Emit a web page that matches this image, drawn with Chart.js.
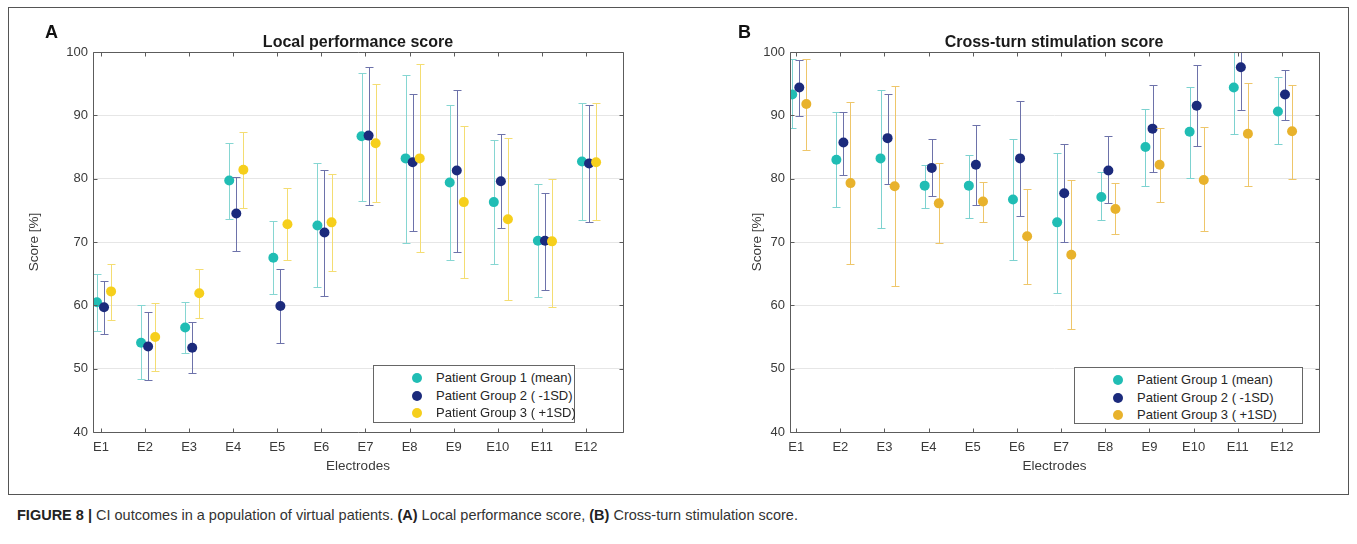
<!DOCTYPE html>
<html>
<head>
<meta charset="utf-8">
<script src="https://cdn.jsdelivr.net/npm/chart.js@4.4.1/dist/chart.umd.min.js"></script>
<style>
  html, body { margin:0; padding:0; background:#fff; }
  body { width:1357px; height:544px; position:relative; overflow:hidden; font-family:"Liberation Sans", Arial, sans-serif; }
  .frame { position:absolute; left:8px; top:7px; width:1341px; height:488px; border:1px solid #555; box-sizing:border-box; }
  canvas { position:absolute; top:0; }
  .letter { position:absolute; font-weight:bold; font-size:18px; color:#111; }
  .ptitle { position:absolute; font-weight:bold; font-size:16px; color:#1a1a1a; transform:translateX(-50%); white-space:nowrap; top:33px; }
  .legend { position:absolute; background:#fff; border:1px solid #666; box-sizing:border-box; font-size:13px; color:#262626; }
  .legend .row { position:absolute; left:0; white-space:nowrap; line-height:17px; }
  .legend .dot { position:absolute; width:10px; height:10px; border-radius:50%; top:4px; }
  .legend .txt { position:absolute; top:0; }
  .caption { position:absolute; left:17px; top:507px; font-size:14.5px; color:#333; white-space:nowrap; font-family:"Liberation Sans Narrow","Liberation Sans",Arial,sans-serif; }
  .caption b { color:#222; }
</style>
</head>
<body>
<div class="frame"></div>
<canvas id="cA" width="690" height="500" style="left:0px;width:690px;height:500px;"></canvas>
<canvas id="cB" width="667" height="500" style="left:690px;width:667px;height:500px;"></canvas>
<div class="letter" style="left:45px;top:22px;">A</div>
<div class="letter" style="left:738px;top:22px;">B</div>
<div class="ptitle" style="left:358px;">Local performance score</div>
<div class="ptitle" style="left:1054px;">Cross-turn stimulation score</div>
<div id="legA" class="legend" style="left:373px;top:365px;width:202px;height:58px;"></div>
<div id="legB" class="legend" style="left:1074px;top:367px;width:229px;height:57px;"></div>
<div class="caption"><b>FIGURE 8 |</b> CI outcomes in a population of virtual patients. <b>(A)</b> Local performance score, <b>(B)</b> Cross-turn stimulation score.</div>
<script>
// ---------- data ----------
const electrodes = ["E1","E2","E3","E4","E5","E6","E7","E8","E9","E10","E11","E12"];
const yTicks = [40, 50, 60, 70, 80, 90, 100];
const groupNames = ["Patient Group 1 (mean)", "Patient Group 2 ( -1SD)", "Patient Group 3 ( +1SD)"];

// Panel A: Local performance score
const lpsG1Mean = [60.5, 54.1, 56.5, 79.7, 67.5, 72.6, 86.7, 83.2, 79.4, 76.3, 70.2, 82.7];
const lpsG1Low  = [56.0, 48.4, 52.4, 73.7, 61.8, 62.9, 76.4, 69.8, 67.1, 66.5, 61.3, 73.4];
const lpsG1High = [64.9, 60.0, 60.6, 85.6, 73.3, 82.5, 96.7, 96.4, 91.7, 86.1, 79.2, 92.0];
const lpsG2Mean = [59.7, 53.5, 53.3, 74.5, 59.9, 71.5, 86.8, 82.6, 81.3, 79.6, 70.2, 82.4];
const lpsG2Low  = [55.5, 48.2, 49.3, 68.6, 54.0, 61.5, 75.9, 71.8, 68.4, 72.2, 62.5, 73.2];
const lpsG2High = [63.9, 58.9, 57.3, 80.2, 65.7, 81.4, 97.6, 93.3, 94.0, 87.1, 77.7, 91.6];
const lpsG3Mean = [62.2, 55.0, 61.9, 81.4, 72.8, 73.1, 85.6, 83.2, 76.3, 73.6, 70.1, 82.6];
const lpsG3Low  = [57.7, 49.6, 58.0, 75.4, 67.1, 65.4, 76.3, 68.4, 64.3, 60.8, 59.8, 73.4];
const lpsG3High = [66.5, 60.3, 65.7, 87.4, 78.5, 80.7, 94.9, 98.1, 88.3, 86.5, 80.0, 91.9];

// Panel B: Cross-turn stimulation score
const ctsG1Mean = [93.3, 83.0, 83.2, 78.9, 78.9, 76.7, 73.1, 77.1, 85.0, 87.4, 94.4, 90.6];
const ctsG1Low  = [88.0, 75.5, 72.2, 75.4, 73.8, 67.1, 62.0, 73.5, 78.9, 80.1, 87.1, 85.4];
const ctsG1High = [98.9, 90.5, 94.0, 82.2, 83.8, 86.3, 84.1, 81.0, 91.0, 94.4, 101.5, 96.1];
const ctsG2Mean = [94.4, 85.7, 86.4, 81.7, 82.2, 83.2, 77.7, 81.3, 87.9, 91.5, 97.6, 93.3];
const ctsG2Low  = [89.9, 80.6, 79.2, 77.3, 75.9, 74.1, 70.0, 76.2, 81.1, 85.2, 90.9, 89.2];
const ctsG2High = [98.8, 90.6, 93.4, 86.2, 88.4, 92.3, 85.5, 86.7, 94.8, 98.0, 104.0, 97.2];
const ctsG3Mean = [91.8, 79.3, 78.8, 76.1, 76.4, 70.9, 68.0, 75.2, 82.2, 79.8, 87.1, 87.5];
const ctsG3Low  = [84.6, 66.5, 63.0, 69.8, 73.2, 63.4, 56.3, 71.2, 76.3, 71.7, 78.9, 79.9];
const ctsG3High = [98.9, 92.1, 94.7, 82.4, 79.5, 78.4, 79.8, 79.3, 88.0, 88.1, 95.1, 94.8];

// ---------- styling ----------
const groupOffsets = [-0.09, 0.07, 0.23];
const stylesA = [
  { marker: "#20bdb4", bar: "#86d6d2" },
  { marker: "#1b2a7c", bar: "#6d72aa" },
  { marker: "#f6cf1c", bar: "#f4dd72" }
];
const stylesB = [
  { marker: "#20bdb4", bar: "#7dd2d0" },
  { marker: "#1b2a7c", bar: "#6d72aa" },
  { marker: "#e8b22c", bar: "#eec66a" }
];
const FONT = "'Liberation Sans', Arial, sans-serif";

const errorBarPlugin = {
  id: "errbars",
  beforeDatasetDraw(chart, args) {
    const ds = chart.data.datasets[args.index];
    const { ctx, chartArea } = chart;
    const xs = chart.scales.x, ys = chart.scales.y;
    ctx.save();
    ctx.beginPath();
    ctx.rect(chartArea.left, chartArea.top, chartArea.right - chartArea.left, chartArea.bottom - chartArea.top);
    ctx.clip();
    ctx.strokeStyle = ds.barColor;
    ctx.lineWidth = 1;
    ds.data.forEach((p, i) => {
      const px = Math.round(xs.getPixelForValue(p.x)) + 0.5;
      const ph = Math.round(ys.getPixelForValue(ds.high[i])) + 0.5;
      const pl = Math.round(ys.getPixelForValue(ds.low[i])) + 0.5;
      ctx.beginPath();
      ctx.moveTo(px, ph); ctx.lineTo(px, pl);
      ctx.moveTo(px - 4, ph); ctx.lineTo(px + 4, ph);
      ctx.moveTo(px - 4, pl); ctx.lineTo(px + 4, pl);
      ctx.stroke();
    });
    ctx.restore();
  }
};

const boxPlugin = {
  id: "matlabBox",
  afterDraw(chart) {
    const { ctx, chartArea } = chart;
    const xs = chart.scales.x, ys = chart.scales.y;
    const L = Math.round(chartArea.left) + 0.5, R = Math.round(chartArea.right) + 0.5;
    const T = Math.round(chartArea.top) + 0.5, B = Math.round(chartArea.bottom) + 0.5;
    ctx.save();
    ctx.strokeStyle = "#5c5c5c";
    ctx.lineWidth = 1;
    ctx.beginPath();
    ctx.rect(L, T, R - L, B - T);
    ctx.stroke();
    ctx.beginPath();
    xs.ticks.forEach(t => {
      const px = Math.round(xs.getPixelForValue(t.value)) + 0.5;
      ctx.moveTo(px, B); ctx.lineTo(px, B - 4);
      ctx.moveTo(px, T); ctx.lineTo(px, T + 4);
    });
    ys.ticks.forEach(t => {
      const py = Math.round(ys.getPixelForValue(t.value)) + 0.5;
      ctx.moveTo(L, py); ctx.lineTo(L + 4, py);
      ctx.moveTo(R, py); ctx.lineTo(R - 4, py);
    });
    ctx.stroke();
    ctx.restore();
  }
};

function makeDatasets(groups, styles) {
  return groups.map((g, gi) => ({
    label: groupNames[gi],
    data: g.mean.map((v, i) => ({ x: i + 1 + groupOffsets[gi], y: v })),
    low: g.low,
    high: g.high,
    barColor: styles[gi].bar,
    backgroundColor: styles[gi].marker,
    borderColor: styles[gi].marker,
    pointRadius: 5,
    pointBorderWidth: 0,
    pointHoverRadius: 5,
    showLine: false,
    order: 3 - gi,
    clip: 0
  }));
}

function makeChart(id, groups, styles, cfg) {
  const canvas = document.getElementById(id);
  return new Chart(canvas, {
    type: "scatter",
    data: { datasets: makeDatasets(groups, styles) },
    plugins: [errorBarPlugin, boxPlugin],
    options: {
      responsive: false,
      animation: false,
      devicePixelRatio: 1,
      layout: { padding: { left: 0, top: 52, right: cfg.padRight, bottom: 0 } },
      plugins: { legend: { display: false }, tooltip: { enabled: false }, title: { display: false } },
      scales: {
        x: {
          type: "linear",
          min: cfg.xMin, max: cfg.xMax,
          afterFit: s => { s.height = 68; },
          afterBuildTicks: s => { s.ticks = electrodes.map((e, i) => ({ value: i + 1 })); },
          ticks: {
            autoSkip: false, maxRotation: 0,
            callback: v => electrodes[Math.round(v) - 1] || "",
            color: "#3a3a3a", font: { family: FONT, size: 13 }, padding: 8
          },
          grid: { display: false, drawTicks: false },
          border: { display: false },
          title: { display: true, text: "Electrodes", color: "#3a3a3a", font: { family: FONT, size: 13.5 }, padding: { top: 4, bottom: 26 } }
        },
        y: {
          min: 40, max: 100,
          afterFit: s => { s.width = cfg.yWidth; },
          afterBuildTicks: s => { s.ticks = yTicks.map(v => ({ value: v })); },
          ticks: { color: "#3a3a3a", font: { family: FONT, size: 13 }, padding: 5 },
          grid: { color: "#e6e6e6", drawTicks: false, lineWidth: 1 },
          border: { display: false },
          title: { display: true, text: "Score [%]", color: "#3a3a3a", font: { family: FONT, size: 13.5 }, padding: { top: cfg.yTitlePad, bottom: 0 } }
        }
      }
    }
  });
}

makeChart("cA",
  [ { mean: lpsG1Mean, low: lpsG1Low, high: lpsG1High },
    { mean: lpsG2Mean, low: lpsG2Low, high: lpsG2High },
    { mean: lpsG3Mean, low: lpsG3Low, high: lpsG3High } ],
  stylesA, { xMin: 0.82, xMax: 12.84, padRight: 690 - 623, yWidth: 93, yTitlePad: 26 });

makeChart("cB",
  [ { mean: ctsG1Mean, low: ctsG1Low, high: ctsG1High },
    { mean: ctsG2Mean, low: ctsG2Low, high: ctsG2High },
    { mean: ctsG3Mean, low: ctsG3Low, high: ctsG3High } ],
  stylesB, { xMin: 0.86, xMax: 12.84, padRight: 667 - 629, yWidth: 100, yTitlePad: 59 });

function buildLegend(id, styles, textLeft, dotLeft) {
  const el = document.getElementById(id);
  groupNames.forEach((name, i) => {
    const row = document.createElement("div");
    row.className = "row";
    row.style.top = (3 + i * 17.5) + "px";
    row.style.width = "100%";
    row.style.height = "17px";
    const dot = document.createElement("div");
    dot.className = "dot";
    dot.style.left = dotLeft + "px";
    dot.style.background = styles[i].marker;
    const txt = document.createElement("div");
    txt.className = "txt";
    txt.style.left = textLeft + "px";
    txt.textContent = name;
    row.appendChild(dot); row.appendChild(txt);
    el.appendChild(row);
  });
}
buildLegend("legA", stylesA, 62, 38);
buildLegend("legB", stylesB, 62, 38);
</script>
</body>
</html>
